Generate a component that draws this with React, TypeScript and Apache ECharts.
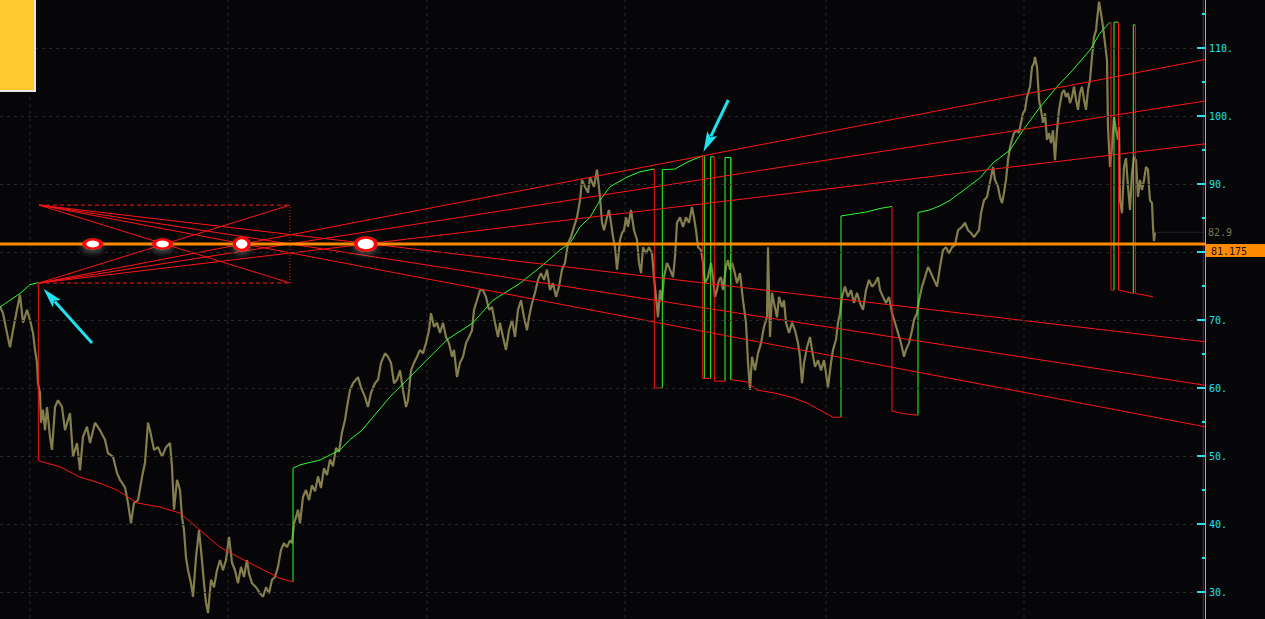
import React, { useEffect, useRef } from "react";
import * as echarts from "echarts";

// ---- axis ranges (index units along x, price along y) ----
const X_MIN = 0;
const X_MAX = 1205;
const Y_MIN = 20;
const Y_MAX = 120;
const Y_INTERVAL = 10;
// tick labels that are visible in the picture (80 sits behind the last-price tag)
const tickLabels = [30, 40, 50, 60, 70, 90, 100, 110];

// ---- price series [index, price] ----
const price: [number, number][] = [
  [0, 72], [3, 71], [7, 68.1], [10, 66], [13, 68.5], [17, 71.5], [20, 73.7], [23, 69.6], [27, 71.5], [30, 70],
  [33, 68.1], [35, 65.6], [37, 63.7], [38, 60.7], [40, 59.3], [41, 54.9], [43, 56.8], [45, 53.8], [47, 57.2], [50, 52.8],
  [52, 50.9], [55, 57.2], [58, 58.2], [62, 57.2], [65, 53.8], [70, 56.3], [73, 49.9], [77, 51.9], [80, 47.9], [83, 52.8],
  [87, 54.3], [90, 51.9], [95, 54.9], [100, 53.8], [105, 52.4], [108, 50.4], [113, 49.9], [117, 47.5], [120, 46.5], [125, 45.4],
  [128, 43.1], [131, 40.1], [134, 43.1], [138, 43.5], [142, 46.9], [145, 49], [148, 54.9], [150, 53.8], [154, 50.9], [158, 51.3],
  [162, 49.9], [166, 51.3], [170, 51.9], [172, 48.4], [174, 42.1], [177, 46.5], [180, 45], [182, 41], [184, 39.1], [186, 35.1],
  [188, 33.2], [191, 31.3], [193, 29.3], [196, 35.1], [199, 39.1], [201, 36.2], [204, 31.3], [206, 28.4], [208, 26.9], [211, 31.8],
  [214, 30.7], [217, 33.2], [220, 34.7], [223, 33.2], [226, 34.7], [229, 38.1], [232, 34.3], [235, 33.2], [238, 31.3], [241, 33.7],
  [244, 32.2], [247, 34.7], [249, 32.7], [252, 31.3], [256, 30.7], [260, 29.8], [263, 29.3], [266, 30.7], [269, 29.8], [272, 31.8],
  [275, 32.2], [278, 33.7], [281, 36.2], [284, 37.2], [287, 36.6], [290, 37.6], [292, 37.2], [294, 40.1], [296, 41], [298, 42.1],
  [300, 40.1], [303, 44], [306, 45], [309, 43.5], [312, 45.7], [315, 44.8], [318, 47], [321, 45.3], [324, 48.2], [327, 47.2],
  [330, 49.5], [333, 48.5], [336, 51.2], [339, 50.6], [342, 53.5], [345, 55.3], [347, 57.2], [350, 59.7], [353, 60.7], [358, 61.6],
  [361, 60.1], [365, 58.7], [368, 57.2], [371, 59.3], [375, 60.7], [378, 61.2], [381, 63.7], [385, 65.1], [388, 64.6], [391, 63.7],
  [394, 60.7], [397, 61.2], [400, 62.6], [403, 59.7], [406, 57.2], [408, 58.2], [411, 62.6], [414, 63.7], [417, 64.6], [420, 65.6],
  [423, 65.1], [426, 66.6], [429, 68.5], [431, 71], [434, 69], [437, 69.6], [440, 68.1], [443, 69.6], [446, 67.5], [449, 66.6],
  [452, 64.6], [454, 65.6], [457, 61.6], [460, 63.7], [463, 64.6], [466, 66.6], [469, 67.5], [472, 68.5], [474, 71.5], [477, 72.9],
  [480, 74.4], [483, 74.4], [486, 73.4], [489, 71.5], [492, 71.9], [495, 69.6], [498, 67.5], [500, 69.6], [503, 67.5], [506, 65.6],
  [509, 68.5], [512, 70], [515, 67.5], [518, 71.5], [521, 72.9], [524, 70.4], [527, 68.5], [529, 70.4], [532, 72.5], [535, 74],
  [538, 75.9], [541, 76.9], [544, 75.9], [547, 77.4], [550, 74.4], [553, 75.4], [556, 73.4], [559, 74.9], [562, 77.4], [565, 78.4],
  [568, 81.3], [571, 82.2], [574, 83.7], [577, 85.1], [580, 87.6], [582, 90.6], [585, 89.6], [588, 88.7], [590, 91], [594, 89.6],
  [597, 92.1], [600, 88.1], [602, 84.3], [604, 83.2], [607, 85.1], [609, 86.2], [611, 84.3], [613, 82.2], [615, 80.7], [617, 77.4],
  [620, 81.8], [622, 82.8], [624, 83.2], [626, 85.1], [628, 83.7], [631, 86.2], [634, 83.2], [637, 81.8], [639, 78.4], [641, 76.9],
  [643, 80.7], [646, 79.8], [649, 80.7], [652, 79.8], [654, 76.3], [656, 73.4], [658, 70.4], [660, 74.4], [662, 72.9], [664, 76.3],
  [667, 78.4], [670, 77.4], [673, 76.3], [675, 79.3], [677, 84.3], [680, 85.1], [683, 83.7], [686, 85.1], [689, 84.3], [692, 86.6],
  [694, 85.1], [696, 83.2], [698, 80.7], [701, 80.3], [703, 78.4], [705, 75.4], [708, 76.3], [711, 78.4], [713, 76.3], [715, 73.4],
  [717, 74.4], [719, 75.9], [721, 76.3], [723, 74.4], [726, 77.8], [728, 78.8], [730, 77.4], [732, 78.4], [734, 77.4], [737, 75.4],
  [740, 76.9], [743, 72.9], [746, 69.6], [748, 63.7], [750, 59.7], [752, 64.6], [755, 62.6], [758, 65.1], [761, 66.6], [764, 69],
  [767, 70.4], [768, 80.7], [770, 67.5], [772, 74], [774, 72.5], [777, 70.4], [779, 73.4], [782, 71.9], [784, 72.9], [786, 69.6],
  [789, 68.1], [792, 69.6], [795, 68.5], [798, 66.6], [800, 64.6], [802, 60.7], [804, 63.7], [807, 66], [810, 67.5], [812, 65.6],
  [815, 63.1], [818, 64.1], [821, 62.6], [824, 64.1], [826, 62.2], [828, 60.1], [831, 63.7], [833, 65.6], [836, 67.1], [838, 69.6],
  [840, 71], [842, 73.4], [845, 74.9], [848, 73.4], [851, 74.4], [854, 72.5], [857, 74], [860, 72.5], [863, 71.5], [866, 74.4],
  [869, 75.9], [872, 74.9], [875, 75.4], [878, 76.3], [880, 74.4], [883, 73.4], [886, 72.5], [889, 73.4], [892, 71], [895, 69.6],
  [898, 68.1], [901, 66.6], [904, 64.6], [906, 65.6], [909, 66.6], [912, 68.5], [914, 70], [917, 71], [919, 72.9], [922, 74.9],
  [925, 76.3], [928, 77.8], [931, 76.9], [934, 75.9], [937, 74.9], [940, 77.8], [943, 80.3], [946, 80.7], [949, 79.8], [952, 80.7],
  [955, 81], [958, 83.2], [962, 83.7], [965, 84.3], [968, 83.2], [971, 82.8], [974, 82.2], [977, 82.8], [979, 83.2], [981, 85.7],
  [984, 87.6], [987, 88.1], [989, 89.6], [991, 91], [993, 92.5], [995, 90.6], [998, 89.6], [1000, 88.1], [1002, 87.2], [1004, 88.7],
  [1006, 90.6], [1008, 93.5], [1010, 95.4], [1012, 96.5], [1014, 97.5], [1017, 97.9], [1019, 97.5], [1021, 99], [1023, 100.4], [1025, 100.9],
  [1027, 102.8], [1030, 104.3], [1032, 107.2], [1034, 107.8], [1035, 108.7], [1037, 107.2], [1039, 102.4], [1041, 100.9], [1043, 99], [1045, 100.4],
  [1047, 96.5], [1049, 97.5], [1051, 96], [1053, 97.9], [1055, 93.5], [1057, 97.9], [1059, 100.9], [1062, 103.4], [1064, 103.8], [1066, 102.8],
  [1068, 103.4], [1070, 101.9], [1072, 102.8], [1074, 104.3], [1076, 102.4], [1078, 100.9], [1080, 103.4], [1082, 104.3], [1084, 102.4], [1086, 100.9],
  [1088, 103.8], [1090, 105.3], [1092, 108.7], [1094, 111.6], [1096, 112.6], [1097, 114.1], [1099, 116.8], [1101, 115.1], [1103, 113.1], [1105, 110.7],
  [1107, 108.2], [1108, 98.4], [1110, 92.5], [1112, 95.4], [1114, 99.9], [1116, 97.9], [1118, 96.5], [1119, 98.4], [1120, 87.6], [1122, 85.7],
  [1124, 92.5], [1126, 93.8], [1128, 89.6], [1130, 86.2], [1132, 91.6], [1134, 94], [1136, 93.5], [1138, 88.1], [1140, 90.6], [1142, 89.1],
  [1144, 90.6], [1146, 92.5], [1148, 92.1], [1149, 89.6], [1150, 87.6], [1152, 87.2], [1153, 83.7], [1154, 81.6], [1155, 82.9],
];

// ---- trailing stop path: green (long) and red (short) pieces ----
const greenStops: [number, number][][] = [
  [[0, 71.9], [10, 72.9], [20, 73.9], [30, 75.2], [38.3, 75.5]],
  [[293, 31.5], [293, 48.2], [300, 48.7], [320, 49.4], [340, 50.9], [350, 52.4], [362, 53.8], [390, 58.7], [420, 63.1],
    [447, 67.1], [473, 69.6], [493, 72.9], [520, 75.4], [543, 78.1], [560, 80.3], [570, 81.3], [580, 83.7], [590, 85.1],
    [600, 87.6], [610, 89.6], [627, 91.0], [640, 91.8], [654.3, 92.2]],
  [[662.3, 60.0], [662.3, 92.1], [675, 92.2], [687, 93.2], [700, 94.0], [703, 94.1]],
  [[704.3, 94.1], [704.3, 61.4]],
  [[710.7, 61.4], [710.7, 94.0], [714.3, 94.0]],
  [[725, 61.0], [725, 93.9], [730.7, 93.9], [730.7, 61.2]],
  [[841, 55.7], [841, 85.3], [850, 85.5], [867, 85.9], [880, 86.4], [892, 86.7]],
  [[918, 56.0], [918, 85.8], [930, 86.2], [940, 86.8], [950, 87.6], [960, 88.7], [980, 90.9], [993, 93.1], [1010, 95.0],
    [1023, 97.9], [1040, 101.3], [1057, 104.3], [1073, 106.8], [1090, 109.7], [1100, 112.2], [1110, 113.8]],
  [[1114, 74.4], [1114, 113.8], [1118.5, 113.8]],
  [[1133.3, 73.9], [1133.3, 113.4], [1135.3, 113.4]],
];

const redStops: [number, number][][] = [
  [[38.3, 75.5], [38.3, 49.3], [60, 48.4], [80, 46.9], [100, 46.0], [117, 45.0], [137, 43.1], [160, 42.5], [180, 41.6],
    [200, 39.1], [220, 36.6], [240, 35.0], [260, 33.5], [280, 32.0], [293, 31.5]],
  [[654.3, 92.2], [654.3, 60.0], [662.3, 60.0]],
  [[702.7, 94.1], [702.7, 61.4], [710.7, 61.4]],
  [[714.3, 94.0], [714.3, 61.0], [725, 61.0]],
  [[731.7, 93.9], [731.7, 61.2], [747, 60.9], [757, 59.7], [773, 59.3], [790, 58.7], [807, 57.8], [823, 56.5], [833, 55.7], [841, 55.7]],
  [[892, 86.7], [892, 56.6], [905, 56.2], [918, 56.0]],
  [[1111, 113.8], [1111, 74.4], [1114, 74.4]],
  [[1118.5, 113.8], [1118.5, 74.4], [1125, 74.2], [1133.3, 73.9]],
  [[1135.3, 113.4], [1135.3, 73.9], [1143, 73.7], [1153, 73.4]],
];

// ---- fan of trend lines and the box they start from ----
const fanStartX = 39;
const fanEndX = 1205;
const boxRightX = 290;
const boxLow = 75.44;
const boxHigh = 86.9;
const fanRisingEnds = [108.3, 102.2, 95.9];
const fanFallingEnds = [66.8, 60.4, 54.3];

// ---- last price / last close ----
const lastPrice = 81.175;
const lastClose = 82.9;
const lastCloseStartX = 1155;

// ---- markers on the last-price line ----
const ovalX = [92.7, 162.5, 241.7, 365.8];
const ovalSizes: [number, number][] = [[17, 9], [17, 9], [15, 12], [20, 13]];

// ---- annotation arrows (from -> tip) ----
const arrows: { from: [number, number]; to: [number, number] }[] = [
  { from: [92, 66.62], to: [43.5, 74.6] },
  { from: [728.3, 102.35], to: [703.5, 94.75] },
];

// ---- vertical grid positions and the purple marker line ----
const vGridX = [30, 228, 427, 625, 826, 1024];
const purpleX = 1203.3;

const RED = "#ff1414";
const GREEN = "#2cff2c";
const CYAN = "#1fe2ee";
const ORANGE = "#ff8a00";
const MONO = "DejaVu Sans Mono, monospace";

function seg(data: any[], color: string, width: number, type: any = "solid", z = 3) {
  return {
    type: "line",
    data,
    symbol: "none",
    showSymbol: false,
    silent: true,
    z,
    lineStyle: { color, width, type },
    emphasis: { disabled: true },
  };
}

export default function App() {
  const ref = useRef<HTMLDivElement>(null);

  useEffect(() => {
    if (!ref.current) return;
    const chart = echarts.init(ref.current, null, { renderer: "svg" });

    const series: any[] = [];
    vGridX.forEach((x) => series.push(seg([[x, Y_MIN], [x, Y_MAX]], "#2a2a2c", 1, [3, 4], 1)));
    series.push(seg([[purpleX, Y_MIN], [purpleX, Y_MAX]], "#5e2270", 1, "solid", 1));

    series.push(seg(price, "#837e4b", 2.2, "solid", 2));
    series.push({
      ...seg([[lastCloseStartX, lastClose], [X_MAX, lastClose]], "#242424", 1, "solid", 2),
      endLabel: { show: true, formatter: String(lastClose), color: "#7b7852", fontFamily: MONO, fontSize: 10, distance: 3 },
    });

    greenStops.forEach((s) => series.push(seg(s, GREEN, 1, "solid", 3)));
    redStops.forEach((s) => series.push(seg(s, RED, 1, "solid", 3)));

    fanRisingEnds.forEach((e) => series.push(seg([[fanStartX, boxLow], [fanEndX, e]], RED, 1, "solid", 4)));
    fanFallingEnds.forEach((e) => series.push(seg([[fanStartX, boxHigh], [fanEndX, e]], RED, 1, "solid", 4)));
    series.push(seg([[fanStartX, boxHigh], [boxRightX, boxLow]], RED, 1, "solid", 4));
    series.push(seg([[fanStartX, boxLow], [boxRightX, boxHigh]], RED, 1, "solid", 4));
    series.push(seg([[fanStartX, boxHigh], [boxRightX, boxHigh]], RED, 1, [4, 3], 4));
    series.push(seg([[fanStartX, boxLow], [boxRightX, boxLow]], RED, 1, [4, 3], 4));
    series.push(seg([[boxRightX, boxLow], [boxRightX, boxHigh]], RED, 1, [1, 2], 4));

    series.push(seg([[X_MIN, lastPrice], [X_MAX, lastPrice]], ORANGE, 3, "solid", 5));

    series.push({
      type: "scatter",
      z: 6,
      silent: true,
      data: ovalX.map((x) => [x, lastPrice]),
      symbol: "circle",
      symbolSize: (_v: any, p: any) => ovalSizes[p.dataIndex],
      itemStyle: {
        color: "#ffffff",
        borderColor: "#ff0000",
        borderWidth: 3,
        shadowBlur: 6,
        shadowColor: "rgba(150,150,150,0.55)",
        shadowOffsetY: 3,
        opacity: 1,
      },
    });

    chart.setOption({
      animation: false,
      backgroundColor: "#060609",
      grid: { left: 0, right: 60, top: -20, bottom: -41, containLabel: false, outerBoundsMode: "none" },
      xAxis: { type: "value", min: X_MIN, max: X_MAX, show: false },
      yAxis: {
        type: "value",
        position: "right",
        min: Y_MIN,
        max: Y_MAX,
        interval: Y_INTERVAL,
        z: 10,
        axisLine: { show: true, onZero: false, lineStyle: { color: CYAN, width: 1 } },
        axisTick: { show: true, inside: true, length: 8, lineStyle: { color: CYAN, width: 2 } },
        minorTick: { show: true, splitNumber: 2, length: 3, lineStyle: { color: CYAN, width: 2 } },
        axisLabel: {
          color: CYAN,
          fontFamily: MONO,
          fontSize: 10,
          margin: 4,
          formatter: (v: number) => (tickLabels.indexOf(v) >= 0 ? v + "." : ""),
        },
        splitLine: { show: true, lineStyle: { color: "#2a2a2c", type: [3, 4] } },
        minorSplitLine: { show: false },
      },
      series,
    });

    const toPx = (p: [number, number]) => chart.convertToPixel({ gridIndex: 0 }, p) as number[];
    const graphics: any[] = [];

    arrows.forEach((a) => {
      const [x1, y1] = toPx(a.from);
      const [x2, y2] = toPx(a.to);
      const dx = x2 - x1;
      const dy = y2 - y1;
      const L = Math.hypot(dx, dy);
      const ux = dx / L;
      const uy = dy / L;
      const headLen = 20;
      const headW = 5.5;
      const bx = x2 - ux * headLen;
      const by = y2 - uy * headLen;
      graphics.push({
        type: "line",
        z: 100,
        shape: { x1, y1, x2: bx + ux * 3, y2: by + uy * 3 },
        style: { stroke: CYAN, lineWidth: 3 },
      });
      graphics.push({
        type: "polygon",
        z: 100,
        shape: {
          points: [
            [x2, y2],
            [bx - uy * headW, by + ux * headW],
            [bx + ux * 4, by + uy * 4],
            [bx + uy * headW, by - ux * headW],
          ],
        },
        style: { fill: CYAN },
      });
    });

    const [axX, py] = toPx([X_MAX, lastPrice]);
    graphics.push({
      type: "rect",
      z: 100,
      shape: { x: axX + 1, y: py, width: 1265 - axX, height: 13 },
      style: { fill: ORANGE },
    });
    graphics.push({
      type: "text",
      z: 101,
      x: axX + 6,
      y: py + 7,
      style: {
        text: String(lastPrice),
        fill: "#1a0d00",
        font: `10px ${MONO}`,
        verticalAlign: "middle",
        align: "left",
      },
    });
    graphics.push({
      type: "rect",
      z: 100,
      shape: { x: -2, y: -2, width: 37, height: 93 },
      style: { fill: "#fec82e", stroke: "#e6e6e6", lineWidth: 2 },
    });

    chart.setOption({ graphic: graphics });

    return () => chart.dispose();
  }, []);

  return (
    <div
      ref={ref}
      style={{ position: "absolute", left: 0, top: 0, width: 1265, height: 619, background: "#060609" }}
    />
  );
}
